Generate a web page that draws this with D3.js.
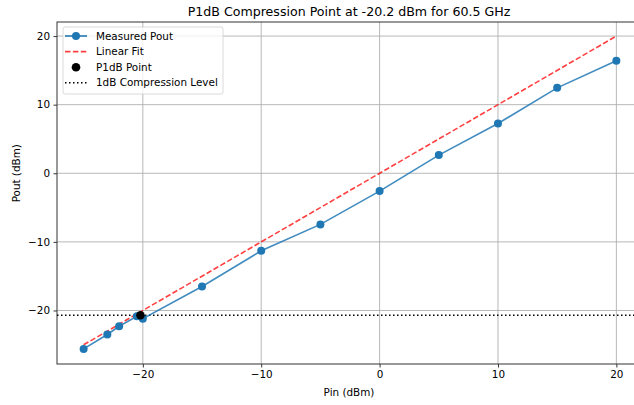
<!DOCTYPE html>
<html>
<head>
<meta charset="utf-8">
<script src="https://cdn.jsdelivr.net/npm/d3@7"></script>
<style>
  body { margin: 0; background: #fff; }
  svg { font-family: "DejaVu Sans", sans-serif; }
</style>
</head>
<body>
<div class="chart"></div>
<script>
const pinValues = [-25, -23, -22, -20.5, -20, -15, -10, -5, 0, 5, 10, 15, 20];
const poutValues = [-25.6, -23.5, -22.3, -20.85, -21.2, -16.5, -11.3, -7.45, -2.6, 2.65, 7.25, 12.45, 16.4];
const fitPin = [-25, 20];
const fitPout = [-25, 20];
const p1dbPin = -20.2;
const p1dbLevel = -20.7;
const xTicks = [-20, -10, 0, 10, 20];
const yTicks = [-20, -10, 0, 10, 20];
const legendLabels = ["Measured Pout", "Linear Fit", "P1dB Point", "1dB Compression Level"];

const W = 634, H = 405;
const margin = { top: 22, right: -9, bottom: 41, left: 57 };
const width = W - margin.left - margin.right,
  height = H - margin.top - margin.bottom;

const svg = d3.select(".chart").append("svg")
  .attr("width", W).attr("height", H);

const g = svg.append("g")
  .attr("transform", "translate(" + margin.left + "," + margin.top + ")");

const x = d3.scaleLinear().domain([-27.25, 22.25]).range([0, width]);
const y = d3.scaleLinear().domain([-27.8, 22.05]).range([height, 0]);

const fmt = (d) => (d < 0 ? "\u2212" + Math.abs(d) : "" + d);

// grid
g.append("g").selectAll("line").data(xTicks).enter().append("line")
  .attr("x1", x).attr("x2", x).attr("y1", 0).attr("y2", height)
  .style("stroke", "#b0b0b0").style("stroke-width", 0.9);
g.append("g").selectAll("line").data(yTicks).enter().append("line")
  .attr("y1", y).attr("y2", y).attr("x1", 0).attr("x2", width)
  .style("stroke", "#b0b0b0").style("stroke-width", 0.9);

// axes
const xAxis = g.append("g")
  .attr("transform", "translate(0," + height + ")")
  .call(d3.axisBottom(x).tickValues(xTicks).tickFormat(fmt).tickSize(3.5).tickPadding(3.5));
const yAxis = g.append("g")
  .call(d3.axisLeft(y).tickValues(yTicks).tickFormat(fmt).tickSize(3.5).tickPadding(3.5));
[xAxis, yAxis].forEach((a) => {
  a.selectAll("text").style("font-size", "10.4px").style("fill", "#000")
    .style("font-family", "DejaVu Sans, sans-serif");
  a.selectAll("line").style("stroke", "#000").style("stroke-width", 0.8);
  a.select(".domain").remove();
});

// spines
g.append("rect").attr("width", width).attr("height", height)
  .style("fill", "none").style("stroke", "#333").style("stroke-width", 1);

// linear fit
const line = d3.line().x((d) => x(d[0])).y((d) => y(d[1]));
g.append("path")
  .datum(d3.zip(fitPin, fitPout))
  .attr("d", line)
  .style("fill", "none").style("stroke", "red").style("stroke-opacity", 0.75)
  .style("stroke-width", 1.6).style("stroke-dasharray", "5.5,2.4");

// 1dB compression level
g.append("line")
  .attr("x1", 0).attr("x2", width)
  .attr("y1", y(p1dbLevel)).attr("y2", y(p1dbLevel))
  .style("stroke", "#000").style("stroke-width", 1.5)
  .style("stroke-dasharray", "1.5,2.5");

// measured
const measured = d3.zip(pinValues, poutValues);
g.append("path")
  .datum(measured)
  .attr("d", line)
  .style("fill", "none").style("stroke", "#1f77b4").style("stroke-opacity", 0.85)
  .style("stroke-width", 1.6);
g.append("g").selectAll("circle").data(measured).enter().append("circle")
  .attr("cx", (d) => x(d[0])).attr("cy", (d) => y(d[1])).attr("r", 4)
  .style("fill", "#1f77b4");

// P1dB point
g.append("circle")
  .attr("cx", x(p1dbPin)).attr("cy", y(p1dbLevel)).attr("r", 4.3)
  .style("fill", "#000");

// title and labels
svg.append("text")
  .attr("x", 349).attr("y", 16)
  .attr("text-anchor", "middle")
  .style("font-size", "12.6px")
  .text("P1dB Compression Point at -20.2 dBm for 60.5 GHz");
svg.append("text")
  .attr("x", 349).attr("y", 396)
  .attr("text-anchor", "middle")
  .style("font-size", "10.4px")
  .text("Pin (dBm)");
svg.append("text")
  .attr("transform", "translate(20," + (margin.top + y(0)) + ") rotate(-90)")
  .attr("text-anchor", "middle")
  .style("font-size", "10.4px")
  .text("Pout (dBm)");

// legend
const legend = g.append("g").attr("transform", "translate(6,5)");
legend.append("rect")
  .attr("width", 160).attr("height", 67).attr("rx", 2)
  .style("fill", "#fff").style("fill-opacity", 0.8)
  .style("stroke", "#d0d0d0").style("stroke-width", 0.8);
const rowY = (i) => 9 + i * 15.6;
const items = legend.selectAll("g.item").data(legendLabels).enter().append("g")
  .attr("class", "item")
  .attr("transform", (d, i) => "translate(0," + rowY(i) + ")");
items.append("text")
  .attr("x", 33).attr("dy", "0.35em")
  .style("font-size", "10.4px")
  .text((d) => d);
// handles
items.filter((d, i) => i === 0).append("line")
  .attr("x1", 2).attr("x2", 24)
  .style("stroke", "#1f77b4").style("stroke-width", 1.6);
items.filter((d, i) => i === 0).append("circle")
  .attr("cx", 13).attr("r", 4).style("fill", "#1f77b4");
items.filter((d, i) => i === 1).append("line")
  .attr("x1", 2).attr("x2", 24)
  .style("stroke", "red").style("stroke-opacity", 0.75).style("stroke-width", 1.6)
  .style("stroke-dasharray", "5.5,2.4");
items.filter((d, i) => i === 2).append("circle")
  .attr("cx", 13).attr("r", 4.3).style("fill", "#000");
items.filter((d, i) => i === 3).append("line")
  .attr("x1", 2).attr("x2", 24)
  .style("stroke", "#000").style("stroke-width", 1.5)
  .style("stroke-dasharray", "1.5,2.5");
</script>
</body>
</html>
